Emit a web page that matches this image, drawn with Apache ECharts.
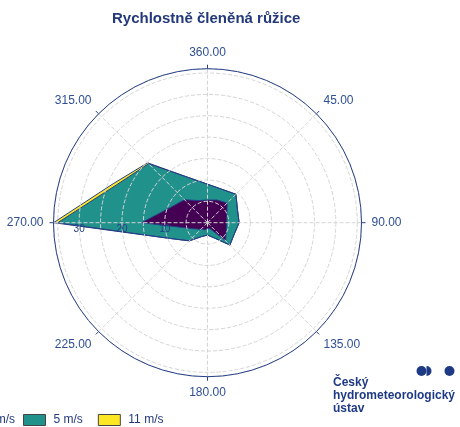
<!DOCTYPE html>
<html>
<head>
<meta charset="utf-8">
<script src="https://cdn.jsdelivr.net/npm/echarts@6/dist/echarts.min.js"></script>
<style>
html,body{margin:0;padding:0;background:#fff;}
#chart{width:460px;height:427px;}
</style>
</head>
<body>
<div id="chart"></div>
<script>
// směry (kompas, stupně)
const directions = [0, 22.5, 45, 67.5, 90, 112.5, 135, 157.5, 180, 202.5, 225, 247.5, 270, 292.5, 315, 337.5];
const classNames = ['0.5 m/s', '5 m/s', '11 m/s'];
// četnosti jednotlivých tříd rychlosti
const speedLow = [5.3, 5.75, 6.5, 4.9, 4.5, 4.75, 6.0, 1.5, 1.4, 1.8, 2.2, 3.7, 15.4, 9.35, 7.6, 5.6];
const speedMid = [3.7, 2.75, 2.9, 2.7, 2.9, 2.05, 1.4, 2.3, 1.5, 1.7, 3.8, 5.9, 19.6, 13.7, 11.9, 5.8];
const speedHigh = [0, 0, 0, 0, 0, 0, 0, 0, 0, 0, 0, 0, 1.0, 0.8, 0.3, 0];
const angleTicks = [0, 45, 90, 135, 180, 225, 270, 315];
const radiusMax = 36;
const colors = ['#440154', '#21918c', '#fde725'];
const navy = '#253f86';

// osa úhlu začíná vlevo (270°), aby radiální osa ležela na západ
function toAxisAngle(d) {
  return (d - 270 + 360) % 360;
}
function ring(values) {
  let pts = directions.map((d, i) => [values[i], toAxisAngle(d)]);
  pts.sort((a, b) => a[1] - b[1]);
  pts.push([pts[0][0], 360]);
  return pts;
}
// kumulace (kreslí se od největší)
let cumMid = speedLow.map((v, i) => v + speedMid[i]);
let cumHigh = cumMid.map((v, i) => v + speedHigh[i]);
let layers = [
  {name: classNames[2], data: cumHigh, color: colors[2]},
  {name: classNames[1], data: cumMid, color: colors[1]},
  {name: classNames[0], data: speedLow, color: colors[0]},
];

let chart = echarts.init(document.getElementById('chart'));
let fontFamily = '"Liberation Sans", Arial, sans-serif';
let legendBase = {
  top: 414,
  padding: 0,
  icon: 'rect',
  itemWidth: 22,
  itemHeight: 11,
  itemGap: 15,
  itemStyle: {borderColor: '#444', borderWidth: 1},
  textStyle: {fontSize: 12, color: '#23397a', padding: [0, 0, 0, 3], fontFamily: fontFamily},
};
let option = {
  animation: false,
  textStyle: {fontFamily: fontFamily},
  title: {
    text: 'Rychlostně členěná růžice',
    left: 107,
    top: 6,
    textStyle: {fontSize: 15, fontWeight: 'bold', color: '#23397a', fontFamily: fontFamily},
  },
  legend: [
    Object.assign({}, legendBase, {data: [classNames[0]], right: 445}),
    Object.assign({}, legendBase, {data: classNames.slice(1), left: 23}),
  ],
  polar: {
    center: [207.5, 222.7],
    radius: 154,
  },
  angleAxis: {
    type: 'value',
    min: 0,
    max: 360,
    interval: 45,
    startAngle: 180,
    clockwise: true,
    z: 10,
    axisLine: {lineStyle: {color: navy, width: 1}},
    axisTick: {show: true, length: 4, lineStyle: {color: navy}},
    axisLabel: {
      color: '#2f4f94',
      fontSize: 12,
      margin: 10,
      formatter: function (v) {
        if (angleTicks.indexOf(v) < 0) return '';
        let c = (v + 270) % 360;
        if (c === 0) c = 360;
        return c.toFixed(2);
      },
    },
    splitLine: {show: true, lineStyle: {color: '#d4d4d4', type: 'dashed', width: 1}},
  },
  radiusAxis: {
    type: 'value',
    min: 0,
    max: radiusMax,
    interval: 5,
    z: 10,
    axisLine: {show: false},
    axisTick: {show: false},
    axisLabel: {
      color: navy,
      fontSize: 10,
      margin: 2,
      formatter: function (v) {
        return (v > 0 && v % 10 === 0) ? String(v) : '';
      },
    },
    splitLine: {show: true, lineStyle: {color: '#d4d4d4', type: 'dashed', width: 1}},
  },
  series: layers.map(l => ({
    name: l.name,
    type: 'line',
    coordinateSystem: 'polar',
    showSymbol: false,
    symbol: 'none',
    data: ring(l.data),
    itemStyle: {color: l.color},
    lineStyle: {color: navy, width: 1},
    areaStyle: {color: l.color, opacity: 1},
    z: 1,
  })),
  graphic: [
    {type: 'circle', shape: {cx: 421.5, cy: 371, r: 5}, style: {fill: '#1f3a85'}},
    {type: 'sector', shape: {cx: 426.5, cy: 371, r: 5, r0: 0, startAngle: -Math.PI / 2, endAngle: Math.PI / 2}, style: {fill: '#1f3a85'}},
    {type: 'circle', shape: {cx: 449.5, cy: 371, r: 5}, style: {fill: '#1f3a85'}},
    {
      type: 'text',
      left: 333,
      top: 376,
      style: {
        text: 'Český\nhydrometeorologický\nústav',
        fill: '#1f3a85',
        font: 'bold 12px ' + fontFamily,
        lineHeight: 13,
      },
    },
  ],
};
chart.setOption(option);
</script>
</body>
</html>
